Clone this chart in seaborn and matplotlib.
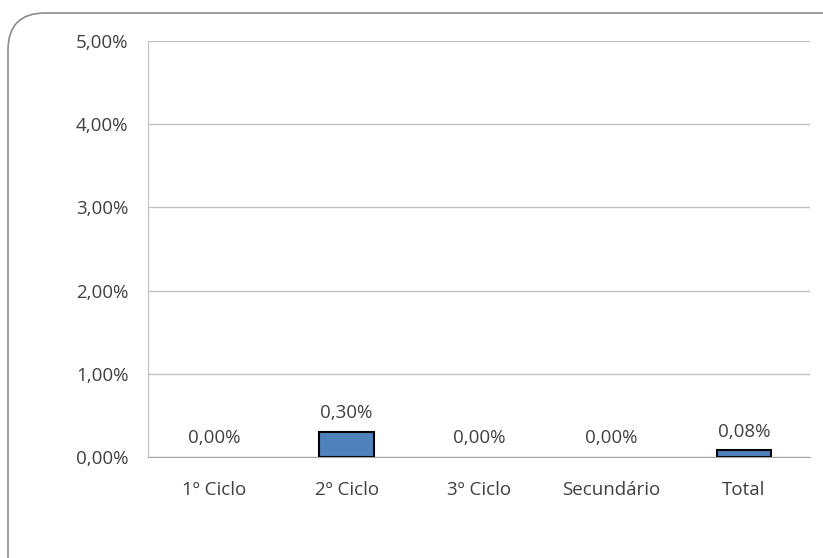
import pandas as pd
import matplotlib
matplotlib.use("Agg")
import matplotlib.pyplot as plt
from matplotlib.patches import FancyBboxPatch
from matplotlib.ticker import FuncFormatter
import seaborn as sns

# Data
categories = ["1º Ciclo", "2º Ciclo", "3º Ciclo", "Secundário", "Total"]
values = [0.00, 0.30, 0.00, 0.00, 0.08]  # percent

df = pd.DataFrame({"Nivel": categories, "Valor": values})

sns.set_style("white")
plt.rcParams["font.family"] = ["Open Sans", "DejaVu Sans"]

fig = plt.figure(figsize=(8.23, 5.58), dpi=100)
ax = fig.add_axes([148 / 823, 1 - 457 / 558, (810 - 148) / 823, (457 - 41) / 558])

# Rounded chart border (Excel style)
border = FancyBboxPatch((8 / 823, -0.1), 1.2, 1.1 - 13 / 558,
                        boxstyle="round,pad=0,rounding_size=0.045",
                        transform=fig.transFigure, facecolor="none",
                        edgecolor="#8c8c8c", linewidth=1.2, mutation_aspect=823 / 558)
fig.patches.append(border)

sns.barplot(data=df, x="Nivel", y="Valor", color="#4f81bd",
            edgecolor="black", linewidth=1.5, width=0.41, ax=ax, saturation=1)

# zero-height bars are not drawn
for bar, v in zip(ax.patches, values):
    if v == 0:
        bar.set_visible(False)

ax.set_ylim(0, 5)
ax.set_yticks([0, 1, 2, 3, 4, 5])
ax.yaxis.set_major_formatter(FuncFormatter(lambda v, p: f"{v:.2f}%".replace(".", ",")))
ax.grid(axis="y", color="#c0c0c0", linewidth=1)
ax.set_axisbelow(True)
for s in ["top", "right"]:
    ax.spines[s].set_visible(False)
ax.spines["left"].set_color("#c0c0c0")
ax.spines["bottom"].set_color("#a6a6a6")
ax.tick_params(axis="both", length=0, labelsize=13.5, colors="#404040")
ax.tick_params(axis="x", pad=17)
ax.tick_params(axis="y", pad=14)
ax.set_xlabel("")
ax.set_ylabel("")

for i, v in enumerate(values):
    ax.annotate(f"{v:.2f}%".replace(".", ","), (i, v), xytext=(0, 7),
                textcoords="offset points", ha="center", va="bottom",
                fontsize=13.5, color="#404040")

fig.savefig("out.png", dpi=100)
